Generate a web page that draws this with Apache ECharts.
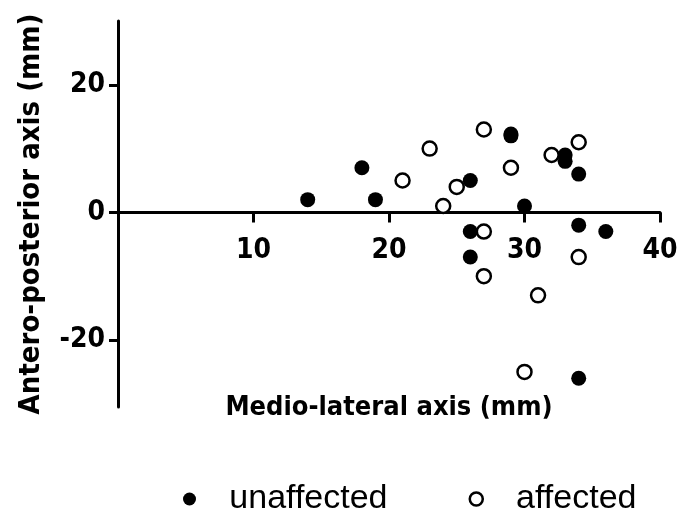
<!DOCTYPE html>
<html>
<head>
<meta charset="utf-8">
<script src="https://cdn.jsdelivr.net/npm/echarts@6/dist/echarts.min.js"></script>
<style>
  html, body { margin: 0; padding: 0; background: #fff; }
  #chart { width: 682px; height: 512px; }
</style>
</head>
<body>
<div id="chart"></div>
<script>
// Medio-lateral (x) and antero-posterior (y) positions, in mm
const unaffected = [
  [14, 2], [18, 7], [19, 2], [26, 5], [29, 12], [29, 12.3],
  [33, 9], [33, 8], [34, 6], [30, 1], [34, -2], [26, -3],
  [26, -7], [36, -3], [34, -26]
];
const affected = [
  [23, 10], [21, 5], [25, 4], [24, 1], [27, 13], [29, 7],
  [32, 9], [34, 11], [27, -3], [27, -10], [34, -7], [31, -13],
  [30, -25]
];
const xTicks = [10, 20, 30, 40];
const yTicks = [-20, 0, 20];
const seriesNames = ['unaffected', 'affected'];

const boldFont = '"DejaVu Sans Condensed", "Liberation Sans", Arial, sans-serif';
const plainFont = '"Liberation Sans", Arial, sans-serif';

// plot box and value ranges
const gridTop = 21, gridBottom = 105, gridHeight = 512 - gridTop - gridBottom;
const yMin = -30.5, yMax = 30;
// lift the x axis from the bottom edge of the plot box up to y = 0
const xAxisLift = gridHeight * (0 - yMin) / (yMax - yMin);

const chart = echarts.init(document.getElementById('chart'), null, { renderer: 'canvas' });

chart.setOption({
  animation: false,
  backgroundColor: '#ffffff',
  grid: { left: 118, right: 22, top: gridTop, bottom: gridBottom, containLabel: false, outerBoundsMode: 'none' },
  xAxis: {
    type: 'value',
    min: 0,
    max: 40,
    position: 'bottom',
    offset: -xAxisLift,
    name: 'Medio-lateral axis (mm)',
    nameLocation: 'middle',
    nameGap: 182,
    nameTextStyle: { fontFamily: boldFont, fontWeight: 'bold', fontSize: 27, color: '#000' },
    axisLine: { onZero: false, lineStyle: { color: '#000', width: 3 } },
    axisTick: { show: true, inside: false, length: 10, customValues: xTicks, lineStyle: { color: '#000', width: 3 } },
    axisLabel: {
      customValues: xTicks, margin: 24,
      fontFamily: boldFont, fontWeight: 'bold', fontSize: 28, color: '#000'
    },
    splitLine: { show: false }
  },
  yAxis: {
    type: 'value',
    min: yMin,
    max: yMax,
    name: 'Antero-posterior axis (mm)',
    nameLocation: 'middle',
    nameRotate: 90,
    nameGap: 72,
    nameTextStyle: { fontFamily: boldFont, fontWeight: 'bold', fontSize: 29, color: '#000' },
    axisLine: { onZero: false, lineStyle: { color: '#000', width: 3 } },
    axisTick: { show: true, inside: false, length: 9, customValues: yTicks, lineStyle: { color: '#000', width: 3 } },
    axisLabel: {
      customValues: yTicks, margin: 13,
      fontFamily: boldFont, fontWeight: 'bold', fontSize: 28, color: '#000'
    },
    splitLine: { show: false }
  },
  legend: {
    data: [
      { name: seriesNames[0], icon: 'circle', itemStyle: { color: '#000', borderWidth: 0 } },
      { name: seriesNames[1], icon: 'circle', itemStyle: { color: '#fff', borderColor: '#000', borderWidth: 2.5 } }
    ],
    formatter: function (name) { return '   ' + name; },
    left: 178,
    top: 477,
    itemWidth: 13,
    itemHeight: 13,
    itemGap: 81,
    textStyle: { fontFamily: plainFont, fontSize: 34, color: '#000' }
  },
  series: [
    {
      name: seriesNames[0],
      type: 'scatter',
      data: unaffected,
      symbol: 'circle',
      symbolSize: 15,
      itemStyle: { color: '#000', opacity: 1 },
      z: 3
    },
    {
      name: seriesNames[1],
      type: 'scatter',
      data: affected,
      symbol: 'circle',
      symbolSize: 14,
      itemStyle: { color: '#fff', borderColor: '#000', borderWidth: 2.5, opacity: 1 },
      z: 4
    }
  ]
});
</script>
</body>
</html>
